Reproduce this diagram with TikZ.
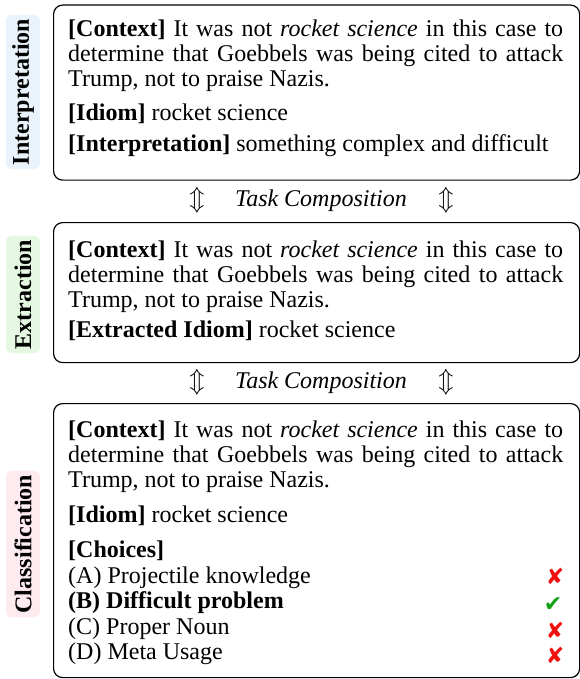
\documentclass[tikz,border=0pt]{standalone}
\usepackage{fontspec}
\setmainfont{Liberation Serif}
\newfontfamily\symfont{DejaVu Sans}
\definecolor{bgblue}{HTML}{EAF3FB}
\definecolor{bggreen}{HTML}{E4F8E2}
\definecolor{bgpink}{HTML}{FDEBEF}
\definecolor{xred}{HTML}{F01010}
\definecolor{vgreen}{HTML}{16A016}
\begin{document}
\begin{tikzpicture}[x=1pt,y=-1pt,
  box/.style={draw=black, line width=1.2pt, rounded corners=9pt, anchor=north west, inner sep=0pt},
  txt/.style={anchor=base west, inner sep=0pt, font=\fontsize{24}{25}\selectfont},
  lab/.style={rotate=90, fill=#1, rounded corners=6pt, inner xsep=4pt, minimum height=34pt, font=\fontsize{24}{25}\selectfont\bfseries},
  comp/.style={anchor=base, inner sep=0pt, font=\fontsize{24}{25}\selectfont\itshape},
  arr/.style={inner sep=0pt, font=\fontsize{24}{25}\selectfont},
  tick/.style={inner sep=0pt, font=\fontsize{22}{24}\symfont\bfseries}
]
\useasboundingbox (0,0) rectangle (580,679);

% boxes
\node[box, minimum width=526pt, minimum height=175pt] (b1) at (53,4.5) {};
\node[box, minimum width=526pt, minimum height=140pt] (b2) at (53,222) {};
\node[box, minimum width=526pt, minimum height=274pt] (b3) at (53,403) {};

% side labels
\node[lab=bgblue] (l1) at (23,92) {Interpretation};
\node[lab=bggreen] (l2) at (23,294.5) {Extraction};
\node[lab=bgpink] (l3) at (23,544) {Classification};

% box 1
\node[txt] (t11) at (68,37) {\makebox[495pt][s]{\textbf{[Context]} It was not \textit{rocket science} in this case to}};
\node[txt] (t12) at (68,62) {\makebox[495pt][s]{determine that Goebbels was being cited to attack}};
\node[txt] (t13) at (68,87) {Trump, not to praise Nazis.};
\node[txt] (t14) at (68,121) {\textbf{[Idiom]} rocket science};
\node[txt] (t15) at (68,152) {\textbf{[Interpretation]} something complex and difficult};

% composition 1
\node[arr] (a1l) at (197,200) {$\Updownarrow$};
\node[comp] (c1) at (321,206) {Task Composition};
\node[arr] (a1r) at (446,200) {$\Updownarrow$};

% box 2
\node[txt] (t21) at (68,257) {\makebox[495pt][s]{\textbf{[Context]} It was not \textit{rocket science} in this case to}};
\node[txt] (t22) at (68,282) {\makebox[495pt][s]{determine that Goebbels was being cited to attack}};
\node[txt] (t23) at (68,307) {Trump, not to praise Nazis.};
\node[txt] (t24) at (68,337) {\textbf{[Extracted Idiom]} rocket science};

% composition 2
\node[arr] (a2l) at (197,382) {$\Updownarrow$};
\node[comp] (c2) at (321,388) {Task Composition};
\node[arr] (a2r) at (446,382) {$\Updownarrow$};

% box 3
\node[txt] (t31) at (68,437) {\makebox[495pt][s]{\textbf{[Context]} It was not \textit{rocket science} in this case to}};
\node[txt] (t32) at (68,462) {\makebox[495pt][s]{determine that Goebbels was being cited to attack}};
\node[txt] (t33) at (68,487) {Trump, not to praise Nazis.};
\node[txt] (t34) at (68,522) {\textbf{[Idiom]} rocket science};
\node[txt] (t35) at (68,557) {\textbf{[Choices]}};
\node[txt] (t36) at (68,583) {(A) Projectile knowledge};
\node[txt] (t37) at (68,608) {\textbf{(B) Difficult problem}};
\node[txt] (t38) at (68,634) {(C) Proper Noun};
\node[txt] (t39) at (68,659) {(D) Meta Usage};

% marks
\node[tick, text=xred] (m1) at (555,576) {✘};
\node[tick, text=vgreen] (m2) at (553,605) {✔};
\node[tick, text=xred] (m3) at (555,630) {✘};
\node[tick, text=xred] (m4) at (555,655) {✘};
\end{tikzpicture}
\end{document}
